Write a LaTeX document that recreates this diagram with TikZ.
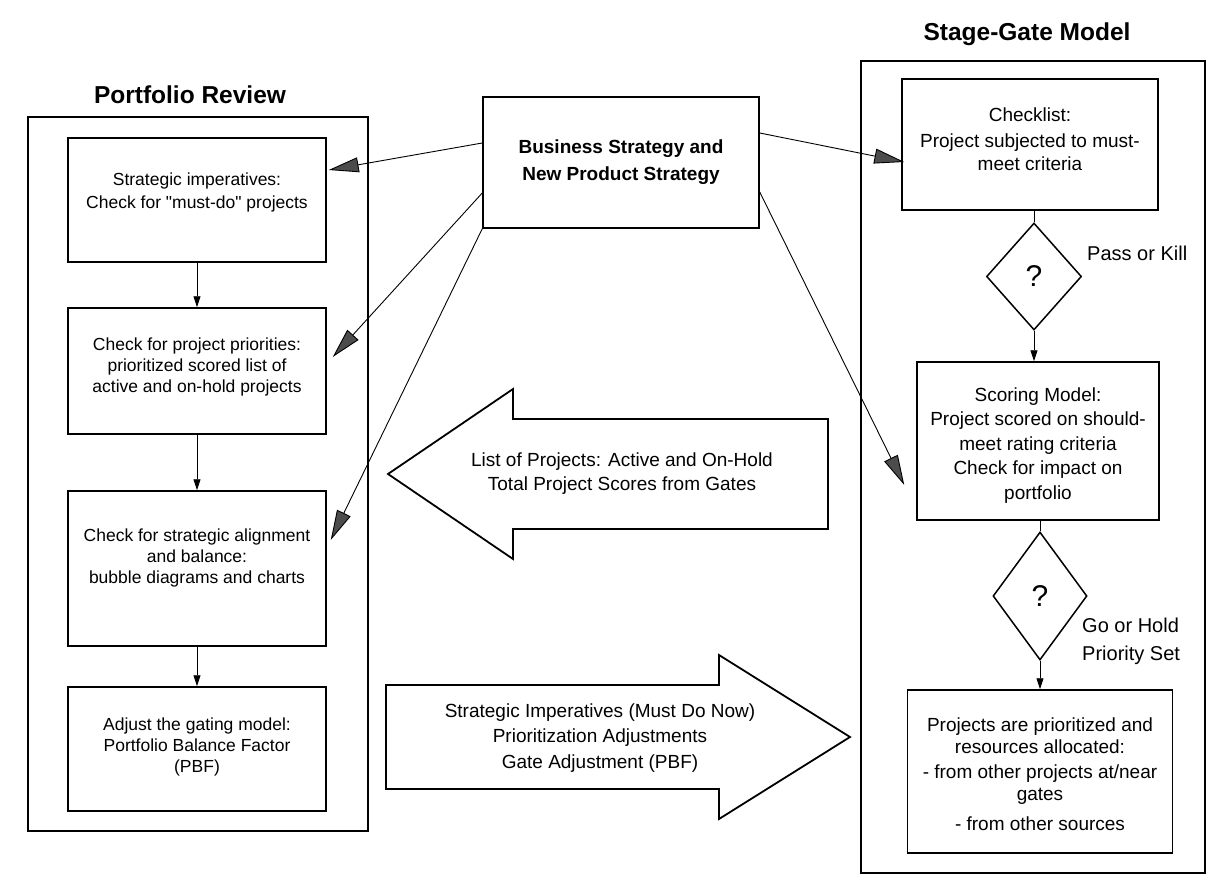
\documentclass[tikz,border=0pt]{standalone}
\usepackage{fontspec}
\setmainfont{Liberation Sans}[Ligatures=TeXOff]
\usetikzlibrary{arrows.meta,shapes.geometric,positioning}

\begin{document}
\begin{tikzpicture}[x=1pt,y=1pt,>={Triangle[length=11pt,width=7pt]},
  box/.style={draw,line width=1.5pt,inner sep=0pt},
  txtL/.style={inner sep=0pt,align=center,anchor=north,font=\fontsize{17.5}{21}\selectfont},
  txtR/.style={inner sep=0pt,align=center,font=\fontsize{19}{22.5}\selectfont},
  gate/.style={draw,diamond,line width=1.5pt,inner sep=0pt,font=\fontsize{30}{30}\selectfont},
  heading/.style={inner sep=0pt,anchor=base,font=\bfseries\fontsize{24.5}{28}\selectfont},
  feed/.style={-{Triangle[length=30pt,width=15pt,fill=black!70]},line width=0.9pt},
  bigarrow/.style={draw,line width=1.8pt,line join=miter}]
\useasboundingbox (0,0) rectangle (1211,-875);

% the two frames and their headings
\node[box,line width=1.8pt,minimum width=340pt,minimum height=714pt] (prframe) at (198,-474) {};
\node[box,line width=1.8pt,minimum width=344pt,minimum height=812pt] (sgframe) at (1033,-467) {};
\node[heading] (prhead) at (190,-103) {Portfolio Review};
\node[heading] (sghead) at (1027,-41) {Stage-Gate Model};

% portfolio review
\node[box,minimum width=258pt,minimum height=124pt] (imp) at (197,-200) {};
\node[box,minimum width=258pt,minimum height=126pt] (prio) at (197,-371) {};
\node[box,minimum width=258pt,minimum height=155pt] (balance) at (197,-568.5) {};
\node[box,minimum width=258pt,minimum height=124pt] (pbf) at (197,-749) {};
\node[txtL] (imptxt) at ([yshift=-35pt]imp.north) {Strategic imperatives:\\[2pt]Check for "must-do" projects};
\node[txtL] (priotxt) at ([yshift=-30.5pt]prio.north) {Check for project priorities:\\prioritized scored list of\\active and on-hold projects};
\node[txtL] (baltxt) at ([yshift=-38.5pt]balance.north) {Check for strategic alignment\\and balance:\\bubble diagrams and charts};
\node[txtL] (pbftxt) at ([yshift=-31.5pt]pbf.north) {Adjust the gating model:\\Portfolio Balance Factor\\(PBF)};
\draw[->,line width=0.9pt] (imp) -- (prio);
\draw[->,line width=0.9pt] (prio) -- (balance);
\draw[->,line width=0.9pt] (balance) -- (pbf);

% strategy
\node[box,minimum width=276pt,minimum height=131pt,align=center,
  font=\bfseries\fontsize{19}{27}\selectfont] (biz) at (621,-162.5) {Business Strategy and\\New Product Strategy};

% stage-gate model
\node[box,minimum width=256pt,minimum height=131pt] (check) at (1030,-144.5) {};
\node[gate,minimum width=95pt,minimum height=107pt] (gate1) at (1034,-276.5) {?};
\node[box,minimum width=242pt,minimum height=158pt] (score) at (1038,-441) {};
\node[gate,minimum width=94pt,minimum height=128pt] (gate2) at (1040,-596) {?};
\node[box,minimum width=265pt,minimum height=163pt] (final) at (1040,-771.5) {};
\node[txtR,anchor=north] (checktxt) at ([yshift=-29pt]check.north) {Checklist:\\[4pt]Project subjected to must-\\meet criteria};
\node[txtR,anchor=north,font=\fontsize{19}{24.5}\selectfont] (scoretxt) at ([yshift=-26pt]score.north)
  {Scoring Model:\\Project scored on should-\\meet rating criteria\\Check for impact on\\portfolio};
\node[txtR,anchor=north] (finaltxt) at ([yshift=-28pt]final.north)
  {Projects are prioritized and\\resources allocated:\\[2pt]- from other projects at/near\\gates\\[7pt]- from other sources};
\node[inner sep=0pt,anchor=base west,font=\fontsize{20}{24}\selectfont] (passkill) at (1087,-260) {Pass or Kill};
\node[inner sep=0pt,anchor=north west,align=left,font=\fontsize{20}{27.5}\selectfont] (gohold) at (1082,-618) {Go or Hold\\Priority Set};
\draw[line width=0.9pt] (check.south -| gate1) -- (gate1.north);
\draw[->,line width=0.9pt] (gate1.south) -- (gate1.south |- score.north);
\draw[line width=0.9pt] (score.south -| gate2) -- (gate2.north);
\draw[->,line width=0.9pt] (gate2) -- (final);

% block arrows between the two models
\draw[bigarrow] (828,-419) -- (513,-419) -- (513,-389) -- (388,-474) -- (513,-559) -- (513,-529) -- (828,-529) -- cycle;
\node[txtR,font=\fontsize{19}{24}\selectfont] (listtxt) at (622,-474) {List of Projects: Active and On-Hold\\Total Project Scores from Gates};
\draw[bigarrow] (386,-685) -- (719,-685) -- (719,-655) -- (850,-737) -- (719,-819) -- (719,-789) -- (386,-789) -- cycle;
\node[txtR,font=\fontsize{19}{25.5}\selectfont] (strattxt) at (600,-738) {Strategic Imperatives (Must Do Now)\\Prioritization Adjustments\\Gate Adjustment (PBF)};

% strategy feeds both models
\draw[feed] ([yshift=19.5pt]biz.west) -- ([xshift=2pt,yshift=30pt]imp.east);
\draw[feed] ([yshift=-30.5pt]biz.west) -- ([xshift=6pt,yshift=14pt]prio.east);
\draw[feed] (biz.south west) -- ([xshift=4pt,yshift=28.5pt]balance.east);
\draw[feed] ([yshift=29.5pt]biz.east) -- ([xshift=3pt,yshift=-17.5pt]check.west);
\draw[feed] ([yshift=-29.5pt]biz.east) -- ([xshift=-12pt,yshift=-44pt]score.west);
\end{tikzpicture}
\end{document}
